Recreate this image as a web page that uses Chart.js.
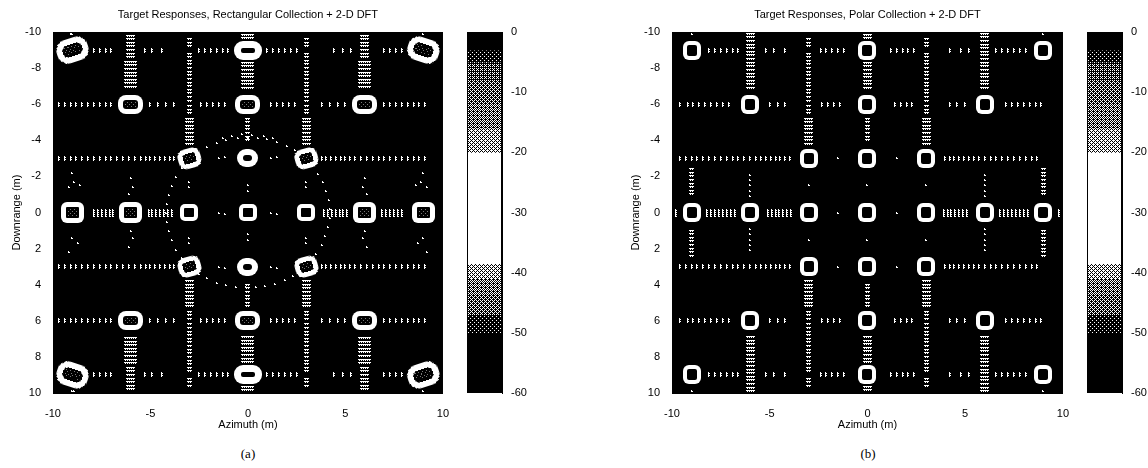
<!DOCTYPE html>
<html>
<head>
<meta charset="utf-8">
<script src="https://cdn.jsdelivr.net/npm/chart.js@4"></script>
<style>
    html, body { margin: 0; padding: 0; background: #fff; width: 1148px; height: 468px; overflow: hidden; }
    .box { position: absolute; top: 0; }
    .caption { position: absolute; top: 446px; width: 60px; text-align: center; font: 13px "Liberation Serif"; color: #000; }
</style>
</head>
<body>
<div class="box" style="left:0;width:455px;height:432px"><canvas id="panelA"></canvas></div>
<div class="box" style="left:460px;width:76px;height:410px"><canvas id="barA"></canvas></div>
<div class="box" style="left:619px;width:456px;height:432px"><canvas id="panelB"></canvas></div>
<div class="box" style="left:1080px;width:68px;height:410px"><canvas id="barB"></canvas></div>
<div class="caption" style="left:218px">(a)</div>
<div class="caption" style="left:838px">(b)</div>
<script>
// tick labels
const azimuthTicks = [-10, -5, 0, 5, 10];
const rangeTicks = [-10, -8, -6, -4, -2, 0, 2, 4, 6, 8, 10];
const dbTicks = [0, -10, -20, -30, -40, -50, -60];

// target positions (azimuth, downrange), grouped by how large the response looks
const cornersFalling = [[-9, -9], [9, 9]];
const cornersRising = [[9, -9], [-9, 9]];
const edgeTargets = [[0, -9], [0, 9]];
const midRingTargets = [[-6, -6], [6, -6], [-6, 6], [6, 6], [0, -6], [0, 6]];
const outerRowTargets = [[-9, 0], [9, 0], [-6, 0], [6, 0]];
const innerDiagTargets = [[-3, -3], [3, -3], [-3, 3], [3, 3]];
const innerEdgeTargets = [[0, -3], [0, 3]];
const centreTargets = [[-3, 0], [3, 0], [0, 0]];
const allTargets = [[-9, -9], [9, -9], [-9, 9], [9, 9], [0, -9], [0, 9], [-6, -6], [6, -6], [-6, 6], [6, 6], [0, -6], [0, 6],
    [-9, 0], [9, 0], [-6, 0], [6, 0], [-3, -3], [3, -3], [-3, 3], [3, 3], [0, -3], [0, 3], [-3, 0], [3, 0], [0, 0]];

// sidelobe rows: azimuth samples along each downrange row, rectangular collection
const rowNine = [-7.9, -7.6, -7.3, -7.0, -5.3, -4.9, -4.4, -2.5, -2.2, -1.9, -1.6, -1.3, -1.0, 1.0, 1.3, 1.6, 1.9, 2.2, 2.5, 4.4, 4.9, 5.3, 7.0, 7.3, 7.6, 7.9];
const rowSix = [-9.7, -9.4, -9.1, -8.8, -8.5, -8.2, -7.9, -7.6, -7.3, -7.0, -5.0, -4.6, -4.2, -3.8, -2.4, -2.1, -1.8, -1.5, -1.2, 1.2, 1.5, 1.8, 2.1, 2.4, 3.8, 4.2, 4.6, 5.0, 7.0, 7.3, 7.6, 7.9, 8.2, 8.5, 8.8, 9.1];
const rowThree = [-9.7, -9.4, -9.1, -8.8, -8.5, -8.2, -7.9, -7.6, -7.3, -7.0, -6.7, -6.4, -6.1, -5.8, -5.5, -5.25, -5.0, -4.75, -4.5, -4.25, -4.0, -3.8, 3.8, 4.0, 4.25, 4.5, 4.75, 5.0, 5.25, 5.5, 5.8, 6.1, 6.4, 6.7, 7.0, 7.3, 7.6, 7.9, 8.2, 8.5, 8.8, 9.1];
const rowZero = [-7.9, -7.7, -7.5, -7.3, -7.1, -6.9, -5.1, -4.9, -4.7, -4.5, -4.3, -4.1, -3.9, 3.9, 4.1, 4.3, 4.5, 4.7, 4.9, 5.1, 6.9, 7.1, 7.3, 7.5, 7.7, 7.9];

// sidelobe columns: downrange samples along each azimuth column, rectangular collection
const colSixWide = [-8.35, -8.15, -7.95, -7.75, -7.55, -7.35, -7.15, -6.95, 6.95, 7.15, 7.35, 7.55, 7.75, 7.95, 8.15, 8.35];
const colSixCross = [-9.8, -9.6, -9.4, -9.2, -9.0, -8.8, -8.6, 8.6, 8.8, 9.0, 9.2, 9.4, 9.6, 9.8];
const colThreeNear = [-5.2, -5.0, -4.8, -4.6, -4.4, -4.2, -4.0, -3.8, 3.8, 4.0, 4.2, 4.4, 4.6, 4.8, 5.0, 5.2];
const colThreeFar = [-9.6, -9.4, -9.2, -8.8, -8.6, -8.4, -8.2, -8.0, -7.8, -7.6, -7.4, -7.2, -7.0, -6.8, -6.6, -6.4, -6.2, -5.9, -5.7, -5.5, 5.5, 5.7, 5.9, 6.2, 6.4, 6.6, 6.8, 7.0, 7.2, 7.4, 7.6, 7.8, 8.0, 8.2, 8.4, 8.6, 8.8, 9.2, 9.4, 9.6];
const colZeroWide = [-9.85, -9.65, -8.3, -8.1, -7.9, -7.7, -7.5, -7.3, -7.1, -6.9, 6.9, 7.1, 7.3, 7.5, 7.7, 7.9, 8.1, 8.3, 9.65, 9.85];
const colZeroNarrow = [-5.2, -5.0, -4.8, -4.6, -4.4, -4.2, -4.0, 4.0, 4.2, 4.4, 4.6, 4.8, 5.0, 5.2];

// faint response ring around the scene centre, rectangular collection only
const focusCircle = [[0, -4.15], [0.5, -4.1], [1, -4.05], [1.5, -3.9], [2, -3.7], [2.4, -3.45], [2.9, -3.0], [3.3, -2.6], [3.6, -2.15], [3.85, -1.7], [4.0, -1.2], [4.15, -0.7], [4.2, -0.2],
    [4.2, 0.3], [4.1, 0.8], [3.95, 1.3], [3.8, 1.8], [3.5, 2.3], [3.2, 2.7], [2.8, 3.1], [2.3, 3.5], [1.9, 3.75], [1.4, 3.95], [0.9, 4.05], [0.4, 4.1],
    [-0.1, 4.15], [-0.6, 4.1], [-1.1, 4.0], [-1.6, 3.9], [-2.1, 3.65], [-2.5, 3.4], [-3.0, 2.95], [-3.4, 2.5], [-3.7, 2.05], [-3.9, 1.55], [-4.05, 1.05], [-4.15, 0.55],
    [-4.2, 0.05], [-4.15, -0.45], [-4.05, -0.95], [-3.9, -1.45], [-3.7, -1.95], [-3.4, -2.45], [-3.0, -2.9], [-2.6, -3.3], [-2.1, -3.65], [-1.6, -3.85], [-1.1, -4.0], [-0.5, -4.1],
    [0.2, -4.3], [-0.3, -4.35], [0.8, -4.25], [-0.8, -4.25], [1.3, -4.1], [-1.3, -4.15]];

// scattered low level specks
const specksA = [[-1.5, 0], [-1.2, 0.1], [1.2, 0], [1.5, 0.1], [0, -1.5], [0, -1.2], [0, 1.2], [0, 1.5], [-3, -1.7], [-3, -1.4], [3, -1.7], [3, -1.4], [-3, 1.4], [-3, 1.7], [3, 1.4], [3, 1.7],
    [-1.5, -3], [-1.2, -3.1], [1.2, -3], [1.5, -3.1], [-1.5, 3], [-1.2, 3.1], [1.2, 3], [1.5, 3.1], [-8.9, -1.7], [-8.6, -1.5], [-9.2, -1.4], [-9, -2.2], [8.9, -1.7], [8.6, -1.5], [9.2, -1.4], [9, -2.2],
    [-9, 1.4], [-8.7, 1.7], [-9.2, 2.2], [9, 1.4], [8.7, 1.7], [9.2, 2.2], [-6, -1.9], [-5.9, -1.4], [-6.1, -1], [6, -1.9], [5.9, -1.4], [6.1, -1], [-6, 1], [-5.9, 1.4], [-6.1, 1.9], [6, 1], [5.9, 1.4], [6.1, 1.9],
    [-9, -9.9], [9, -9.9], [-9, 9.9], [9, 9.9], [-9.1, -9.9], [-8.9, 9.9]];

// same rows and columns for the polar collection
const polarRowNine = [-8.1, -7.8, -7.5, -7.2, -6.9, -6.6, -5.2, -4.8, -4.2, -2.4, -2.1, -1.8, -1.5, -1.2, 1.2, 1.5, 1.8, 2.1, 2.4, 4.2, 4.8, 5.2, 6.6, 6.9, 7.2, 7.5, 7.8, 8.1];
const polarRowSix = [-9.6, -9.2, -8.9, -8.6, -8.3, -8.0, -7.7, -7.4, -7.1, -5.0, -4.6, -4.2, -2.3, -2.0, -1.7, -1.4, 1.4, 1.7, 2.0, 2.3, 4.2, 4.6, 5.0, 7.1, 7.4, 7.7, 8.0, 8.3, 8.6, 8.9];
const polarRowThree = [-9.6, -9.3, -9.0, -8.7, -8.4, -8.1, -7.8, -7.5, -7.2, -6.9, -6.6, -6.3, -6.0, -5.7, -5.45, -5.2, -4.95, -4.7, -4.45, -4.2, -3.95, 3.95, 4.2, 4.45, 4.7, 4.95, 5.2, 5.45, 5.7, 6.0, 6.3, 6.6, 6.9, 7.2, 7.5, 7.8, 8.1, 8.4, 8.7];
const polarRowZero = [-9.8, -8.2, -8.0, -7.8, -7.6, -7.4, -7.2, -7.0, -6.8, -5.1, -4.9, -4.7, -4.5, -4.3, -4.1, -3.9, 3.9, 4.1, 4.3, 4.5, 4.7, 4.9, 5.1, 6.8, 7.0, 7.2, 7.4, 7.6, 7.8, 8.0, 8.2, 9.8];
const polarColNine = [-2.4, -2.2, -2.0, -1.8, -1.6, -1.4, -1.2, -1.0, 1.0, 1.2, 1.4, 1.6, 1.8, 2.0, 2.2, 2.4];
const polarColSix = [-9.9, -9.7, -9.5, -9.3, -9.1, -8.9, -8.7, -8.5, -8.3, -8.1, -7.9, -7.7, -7.5, -7.3, -7.1, -6.9, 6.9, 7.1, 7.3, 7.5, 7.7, 7.9, 8.1, 8.3, 8.5, 8.7, 8.9, 9.1, 9.3, 9.5, 9.7, 9.9];
const polarColSixSparse = [-2.1, -1.8, -1.5, -1.2, -0.9, 0.9, 1.2, 1.5, 1.8, 2.1];
const specksB = [[-1.5, 0], [1.5, 0], [0, -1.5], [0, 1.5], [-3, -1.5], [3, -1.5], [-3, 1.5], [3, 1.5], [-1.5, -3], [1.5, -3], [-1.5, 3], [1.5, 3], [-9, -9.9], [9, -9.9], [-9, 9.9], [9, 9.9], [0, -5.6], [0, 5.6]];

// colour bar: band edges in dB, and how much white each band holds
const bandEdges = [0, -3, -5, -8, -12, -16, -20, -38.5, -41, -44, -47, -50, -60];
const bandWhite = [0, 0.12, 0.3, 0.38, 0.45, 0.62, 1, 0.62, 0.45, 0.35, 0.14, 0];

const FONT = '"Liberation Sans"';

// pair every fixed coordinate with a list of samples
function rows(ys, xs) {
    return ys.flatMap(y => xs.map(x => ({ x: x, y: y })));
}
function cols(xs, ys) {
    return xs.flatMap(x => ys.map(y => ({ x: x, y: y })));
}
function pts(list) {
    return list.map(p => ({ x: p[0], y: p[1] }));
}

// small halftone dash, the print has no solid greys
function dash(w, h) {
    var c = document.createElement('canvas');
    c.width = w;
    c.height = h;
    var g = c.getContext('2d');
    g.fillStyle = '#fff';
    for (var i = 0; i < w; i++)
        for (var j = 0; j < h; j++)
            if ((i + j) % 2 == 0 || (w > h ? j == 0 : i == 0))
                g.fillRect(i, j, 1, 1);
    return c;
}

// white ring with a dark stippled middle
function ring(w, h, thick, corner, stipple) {
    var c = document.createElement('canvas');
    c.width = w;
    c.height = h;
    var g = c.getContext('2d');
    g.fillStyle = '#fff';
    g.beginPath();
    g.roundRect(0, 0, w, h, corner);
    g.fill();
    g.fillStyle = '#000';
    g.beginPath();
    g.roundRect(thick, thick, w - 2 * thick, h - 2 * thick, Math.max(corner - thick, 1));
    g.fill();
    if (stipple) {
        g.fillStyle = '#777';
        for (var i = thick + 2; i < w - thick - 2; i += 2)
            for (var j = thick + 2; j < h - thick - 2; j += 2)
                if ((i + j) % 4 == 0)
                    g.fillRect(i, j, 1, 1);
    }
    return c;
}

// ordered dither tile for one colour bar band
function ditherTile(ctx, white) {
    var bayer = [0, 8, 2, 10, 12, 4, 14, 6, 3, 11, 1, 9, 15, 7, 13, 5];
    var c = document.createElement('canvas');
    c.width = 4;
    c.height = 4;
    var g = c.getContext('2d');
    g.fillStyle = '#000';
    g.fillRect(0, 0, 4, 4);
    g.fillStyle = '#fff';
    for (var i = 0; i < 16; i++)
        if ((bayer[i] + 0.5) / 16 < white)
            g.fillRect(i % 4, Math.floor(i / 4), 1, 1);
    return ctx.createPattern(c, 'repeat');
}

// black image background, frame drawn after the marks
const imagePlugin = {
    id: 'imageBack',
    beforeDatasetsDraw: function (chart) {
        var a = chart.chartArea;
        chart.ctx.imageSmoothingEnabled = false;
        chart.ctx.fillStyle = '#000';
        chart.ctx.fillRect(a.left, a.top, a.width, a.height);
    }
};
const framePlugin = {
    id: 'frame',
    afterDatasetsDraw: function (chart) {
        var a = chart.chartArea;
        chart.ctx.strokeStyle = '#000';
        chart.ctx.lineWidth = 1;
        chart.ctx.strokeRect(a.left + 0.5, a.top + 0.5, a.width - 1, a.height - 1);
    }
};

function layer(data, sprite, rotation) {
    return { data: data, pointStyle: sprite, pointRadius: 3, pointRotation: rotation || 0, showLine: false, clip: true };
}

function drawPanel(id, title, datasets) {
    new Chart(document.getElementById(id), {
        type: 'scatter',
        data: { datasets: datasets },
        options: {
            responsive: true,
            maintainAspectRatio: false,
            animation: false,
            events: [],
            layout: { padding: { right: 11 } },
            plugins: {
                legend: { display: false },
                tooltip: { enabled: false },
                title: {
                    display: true,
                    text: title,
                    fullSize: false,
                    color: '#000',
                    font: { family: FONT, size: 11, weight: 'normal' },
                    padding: { top: 8, bottom: 10.8 }
                }
            },
            scales: {
                x: {
                    type: 'linear',
                    min: -10,
                    max: 10,
                    afterBuildTicks: function (s) { s.ticks = azimuthTicks.map(v => ({ value: v })); },
                    afterFit: function (s) { s.height = 39; },
                    grid: { display: false },
                    border: { color: '#000' },
                    ticks: { color: '#000', font: { family: FONT, size: 11 }, maxRotation: 0, padding: 6 },
                    title: { display: true, text: 'Azimuth (m)', color: '#000', font: { family: FONT, size: 11 }, padding: { top: 4, bottom: 0 } }
                },
                y: {
                    type: 'linear',
                    min: -10,
                    max: 10,
                    reverse: true,
                    afterBuildTicks: function (s) { s.ticks = rangeTicks.map(v => ({ value: v })); },
                    afterFit: function (s) { s.width = 53; },
                    grid: { display: false },
                    border: { color: '#000' },
                    ticks: { color: '#000', font: { family: FONT, size: 11 }, padding: 4 },
                    title: { display: true, text: 'Downrange (m)', color: '#000', font: { family: FONT, size: 11 }, padding: { top: 10, bottom: 0 } }
                }
            }
        },
        plugins: [imagePlugin, framePlugin]
    });
}

function drawColorBar(id, tickRoom) {
    var canvas = document.getElementById(id);
    var ctx = canvas.getContext('2d');
    var bands = bandWhite.map((w, i) => ({
        data: [[bandEdges[i + 1], bandEdges[i]]],
        backgroundColor: ditherTile(ctx, w),
        barPercentage: 1,
        categoryPercentage: 1,
        grouped: false
    }));
    new Chart(canvas, {
        type: 'bar',
        data: { labels: ['dB'], datasets: bands },
        options: {
            responsive: true,
            maintainAspectRatio: false,
            animation: false,
            events: [],
            layout: { padding: { left: 7, top: 32, bottom: 17 } },
            plugins: { legend: { display: false }, tooltip: { enabled: false } },
            scales: {
                x: { display: false },
                y: {
                    position: 'right',
                    min: -60,
                    max: 0,
                    afterBuildTicks: function (s) { s.ticks = dbTicks.map(v => ({ value: v })); },
                    afterFit: function (s) { s.width = tickRoom; },
                    grid: { display: false },
                    border: { color: '#000' },
                    ticks: { color: '#000', font: { family: FONT, size: 11 }, padding: 1 }
                }
            }
        },
        plugins: [framePlugin]
    });
}

// halftone marks shared by both panels
const stitchTall = dash(2, 8);
const stitchShort = dash(2, 5);
const dashWide = dash(13, 2);
const dashMid = dash(9, 2);
const dashThin = dash(5, 2);
const speck = dash(2, 2);

drawPanel('panelA', 'Target Responses, Rectangular Collection + 2-D DFT', [
    layer(pts(cornersFalling), ring(32, 24, 6, 11, true), -18),
    layer(pts(cornersRising), ring(32, 24, 6, 11, true), 18),
    layer(pts(edgeTargets), ring(28, 19, 7, 9, false)),
    layer(pts(midRingTargets), ring(25, 19, 5, 8, true)),
    layer(pts(outerRowTargets), ring(23, 21, 5, 6, true)),
    layer(pts(innerDiagTargets), ring(23, 20, 5, 8, true), -15),
    layer(pts(innerEdgeTargets), ring(21, 18, 6, 9, false)),
    layer(pts(centreTargets), ring(18, 17, 4, 5, false)),
    layer(rows([-9, 9], rowNine), stitchShort),
    layer(rows([-6, 6], rowSix), stitchShort),
    layer(rows([-3, 3], rowThree), stitchShort),
    layer(rows([0], rowZero), stitchTall),
    layer(cols([-6, 6], colSixWide), dashWide),
    layer(cols([-6, 6], colSixCross), dashMid),
    layer(cols([-3, 3], colThreeNear), dashMid),
    layer(cols([-3, 3], colThreeFar), dashThin),
    layer(cols([0], colZeroWide), dashWide),
    layer(cols([0], colZeroNarrow), dashThin),
    layer(pts(focusCircle), speck),
    layer(pts(specksA), speck)
]);

drawPanel('panelB', 'Target Responses, Polar Collection + 2-D DFT', [
    layer(pts(allTargets), ring(18, 19, 4, 6, false)),
    layer(rows([-9, 9], polarRowNine), stitchShort),
    layer(rows([-6, 6], polarRowSix), stitchShort),
    layer(rows([-3, 3], polarRowThree), stitchShort),
    layer(rows([0], polarRowZero), stitchTall),
    layer(cols([-9, 9], polarColNine), dashThin),
    layer(cols([-6, 6], polarColSix), dashMid),
    layer(cols([-6, 6], polarColSixSparse), speck),
    layer(cols([-3, 3], colThreeFar), dashThin),
    layer(cols([-3, 3], colThreeNear), dashMid),
    layer(cols([0], colZeroWide), dashMid),
    layer(cols([0], colZeroNarrow), dashThin),
    layer(pts(specksB), speck)
]);

drawColorBar('barA', 34);
drawColorBar('barB', 26);
</script>
</body>
</html>
